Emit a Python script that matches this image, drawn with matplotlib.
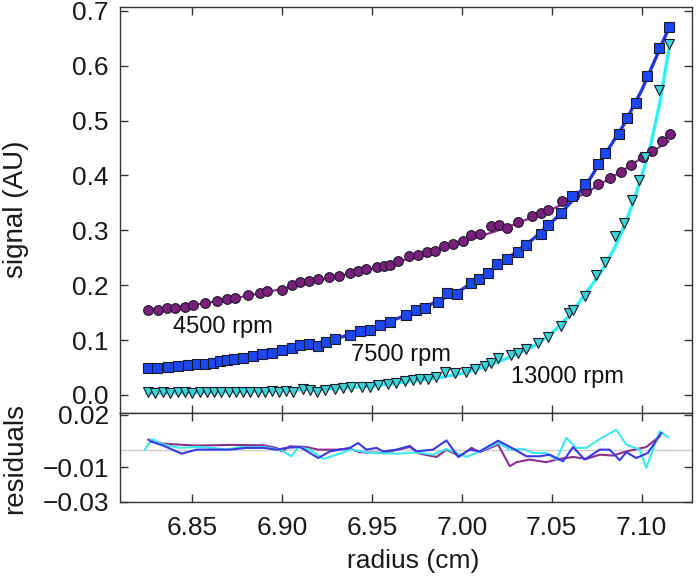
import matplotlib
matplotlib.use('Agg')
import matplotlib.pyplot as plt

plt.rcParams['font.family'] = ['Liberation Sans', 'DejaVu Sans']

# ---------------- data ----------------
r4500 = [6.8257, 6.8313, 6.8360, 6.8406, 6.8461, 6.8507, 6.8572, 6.8637, 6.8693, 6.8739,
         6.8813, 6.8878, 6.8915, 6.8998, 6.9054, 6.9100, 6.9152, 6.9202, 6.9263, 6.9318,
         6.9378, 6.9424, 6.9470, 6.9529, 6.9567, 6.9600, 6.9646, 6.9707, 6.9757, 6.9804,
         6.9850, 6.9900, 6.9952, 7.0007, 7.0050, 7.0100, 7.0165, 7.0206, 7.0254, 7.0313,
         7.0391, 7.0439, 7.0480, 7.0557, 7.0625, 7.0693, 7.0757, 7.0826, 7.0887, 7.0939,
         7.1007, 7.1057, 7.1115, 7.1156]
s4500 = [0.155, 0.155, 0.158, 0.159, 0.161, 0.164, 0.168, 0.172, 0.174, 0.176,
         0.182, 0.185, 0.190, 0.191, 0.200, 0.205, 0.208, 0.211, 0.214, 0.217,
         0.223, 0.225, 0.229, 0.233, 0.235, 0.237, 0.244, 0.253, 0.255, 0.261,
         0.262, 0.272, 0.275, 0.281, 0.292, 0.294, 0.307, 0.310, 0.305, 0.316,
         0.326, 0.332, 0.337, 0.354, 0.362, 0.371, 0.384, 0.395, 0.407, 0.419,
         0.433, 0.445, 0.462, 0.475]

r7500 = [6.8257, 6.8304, 6.8368, 6.8424, 6.8479, 6.8526, 6.8572, 6.8618, 6.8656, 6.8693,
         6.8735, 6.8785, 6.8841, 6.8887, 6.8943, 6.8998, 6.9054, 6.9100, 6.9152, 6.9202,
         6.9244, 6.9294, 6.9378, 6.9433, 6.9489, 6.9544, 6.9600, 6.9689, 6.9748, 6.9794,
         6.9869, 6.9919, 6.9971, 7.0050, 7.0094, 7.0146, 7.0198, 7.0254, 7.0310, 7.0359,
         7.0439, 7.0480, 7.0554, 7.0613, 7.0687, 7.0757, 7.0798, 7.0872, 7.0918, 7.0970,
         7.1032, 7.1096, 7.1150]
s7500 = [0.049, 0.049, 0.050, 0.052, 0.055, 0.056, 0.057, 0.058, 0.061, 0.063,
         0.065, 0.068, 0.071, 0.074, 0.076, 0.082, 0.085, 0.091, 0.093, 0.090,
         0.097, 0.102, 0.109, 0.117, 0.119, 0.128, 0.132, 0.146, 0.154, 0.159,
         0.169, 0.185, 0.184, 0.204, 0.211, 0.223, 0.238, 0.247, 0.261, 0.273,
         0.294, 0.309, 0.331, 0.363, 0.385, 0.421, 0.440, 0.476, 0.504, 0.532,
         0.581, 0.632, 0.670]

r13000 = [6.8255, 6.8296, 6.8338, 6.8379, 6.8421, 6.8462, 6.8501, 6.8543, 6.8582, 6.8624,
          6.8663, 6.8705, 6.8744, 6.8786, 6.8825, 6.8867, 6.8906, 6.8946, 6.8985, 6.9024,
          6.9063, 6.9115, 6.9159, 6.9193, 6.9239, 6.9294, 6.9341, 6.9387, 6.9443, 6.9489,
          6.9535, 6.9591, 6.9637, 6.9683, 6.9730, 6.9767, 6.9813, 6.9859, 6.9906, 6.9961,
          7.0026, 7.0076, 7.0128, 7.0165, 7.0202, 7.0272, 7.0313, 7.0359, 7.0424, 7.0480,
          7.0550, 7.0594, 7.0618, 7.0683, 7.0748, 7.0794, 7.0854, 7.0902, 7.0946, 7.0983,
          7.1020, 7.1094, 7.1150]
s13000 = [0.005, 0.004, 0.005, 0.004, 0.005, 0.005, 0.004, 0.005, 0.005, 0.006,
          0.005, 0.005, 0.006, 0.005, 0.006, 0.006, 0.006, 0.007, 0.006, 0.007,
          0.006, 0.010, 0.008, 0.006, 0.008, 0.010, 0.012, 0.015, 0.015, 0.014,
          0.018, 0.020, 0.022, 0.025, 0.027, 0.029, 0.029, 0.033, 0.041, 0.039,
          0.041, 0.047, 0.052, 0.058, 0.067, 0.073, 0.077, 0.083, 0.094, 0.106,
          0.126, 0.149, 0.155, 0.181, 0.218, 0.243, 0.289, 0.313, 0.355, 0.392,
          0.434, 0.555, 0.640]

# fitted curves
fr4500 = [6.825, 6.85, 6.875, 6.90, 6.925, 6.95, 6.975, 7.00, 7.025, 7.05, 7.07, 7.09, 7.10, 7.115]
fs4500 = [0.155, 0.163, 0.177, 0.193, 0.212, 0.230, 0.252, 0.278, 0.305, 0.338, 0.370, 0.410, 0.432, 0.462]

fr7500 = [6.825, 6.85, 6.875, 6.90, 6.925, 6.95, 6.975, 7.00, 7.02, 7.04, 7.055, 7.07, 7.08, 7.09, 7.10, 7.108, 7.115]
fs7500 = [0.048, 0.054, 0.066, 0.082, 0.098, 0.121, 0.153, 0.192, 0.235, 0.285, 0.330, 0.387, 0.440, 0.492, 0.555, 0.615, 0.668]

fr13000 = [6.825, 6.85, 6.875, 6.90, 6.925, 6.95, 6.975, 6.99, 7.00, 7.01, 7.02, 7.03, 7.04, 7.05,
           7.06, 7.07, 7.075, 7.08, 7.085, 7.09, 7.095, 7.10, 7.105, 7.11, 7.115]
fs13000 = [0.003, 0.004, 0.006, 0.008, 0.011, 0.016, 0.026, 0.033, 0.039, 0.048, 0.060, 0.073, 0.089, 0.112,
           0.145, 0.190, 0.212, 0.238, 0.268, 0.305, 0.348, 0.398, 0.455, 0.530, 0.628]

# residuals
rr4500 = [6.8257, 6.8340, 6.8526, 6.8711, 6.8896, 6.8970, 6.8998, 6.9044, 6.9137, 6.9202,
          6.9304, 6.9378, 6.9433, 6.9563, 6.9711, 6.9767, 6.9860, 6.9915, 6.9989, 7.0054,
          7.0100, 7.0202, 7.0267, 7.0304, 7.0378, 7.0470, 7.0544, 7.0619, 7.0693, 7.0767,
          7.0841, 7.0915, 7.1026, 7.1100]
res4500 = [0.0057, 0.0034, 0.0023, 0.0027, 0.0025, 0.0010, -0.0010, 0.0019, 0.0015, 0.0000,
           0.0000, 0.0006, -0.0015, -0.0019, 0.0015, -0.0023, -0.0042, 0.0000, -0.0038, 0.0010,
           -0.0015, 0.0029, -0.0095, -0.0072, -0.0057, -0.0072, -0.0053, -0.0042, -0.0053, -0.0029,
           -0.0034, -0.0010, 0.0015, 0.0076]

rr7500 = [6.8268, 6.8340, 6.8443, 6.8526, 6.8619, 6.8711, 6.8804, 6.8896, 6.8970, 6.9026,
          6.9100, 6.9202, 6.9267, 6.9378, 6.9424, 6.9470, 6.9526, 6.9563, 6.9637, 6.9711,
          6.9748, 6.9840, 6.9915, 6.9980, 7.0044, 7.0100, 7.0202, 7.0285, 7.0359, 7.0433,
          7.0489, 7.0563, 7.0619, 7.0683, 7.0767, 7.0822, 7.0878, 7.0915, 7.0970, 7.1035,
          7.1109]
res7500 = [0.0048, 0.0023, -0.0023, 0.0000, 0.0000, 0.0000, 0.0010, 0.0010, 0.0000, 0.0010,
           0.0015, -0.0048, -0.0010, 0.0010, 0.0038, 0.0000, 0.0010, -0.0010, 0.0000, 0.0021,
           -0.0010, 0.0000, 0.0053, -0.0042, 0.0000, -0.0010, 0.0051, 0.0006, -0.0038, -0.0038,
           -0.0029, -0.0067, 0.0015, -0.0057, 0.0000, 0.0000, -0.0061, -0.0015, -0.0048, -0.0019,
           0.0095]

rr13000 = [6.8239, 6.8276, 6.8340, 6.8433, 6.8526, 6.8619, 6.8693, 6.8767, 6.8896, 6.8989,
           6.9054, 6.9091, 6.9156, 6.9230, 6.9304, 6.9387, 6.9489, 6.9637, 6.9711, 6.9748,
           6.9840, 6.9915, 7.0026, 7.0081, 7.0202, 7.0267, 7.0341, 7.0396, 7.0470, 7.0526,
           7.0582, 7.0637, 7.0693, 7.0767, 7.0859, 7.0915, 7.0989, 7.1026, 7.1100, 7.1146]
res13000 = [0.0000, 0.0061, 0.0029, 0.0010, 0.0015, 0.0010, 0.0000, 0.0015, 0.0015, 0.0000,
            -0.0038, 0.0015, 0.0000, -0.0053, -0.0029, 0.0000, -0.0019, -0.0023, -0.0019, -0.0015,
            -0.0029, 0.0004, -0.0042, -0.0019, 0.0038, 0.0000, 0.0004, -0.0019, -0.0019, -0.0057,
            0.0067, 0.0010, 0.0010, 0.0061, 0.0114, 0.0029, 0.0000, -0.0105, 0.0105, 0.0072]

xticks = [6.85, 6.90, 6.95, 7.00, 7.05, 7.10]
xticklabels = ['6.85', '6.90', '6.95', '7.00', '7.05', '7.10']
yticks = [0.0, 0.1, 0.2, 0.3, 0.4, 0.5, 0.6, 0.7]
yticklabels = ['0.0', '0.1', '0.2', '0.3', '0.4', '0.5', '0.6', '0.7']
rticks = [0.02, -0.01, -0.03]
rticklabels = ['0.02', '\u22120.01', '\u22120.03']
speed_labels = ['4500 rpm', '7500 rpm', '13000 rpm']

# ---------------- styling ----------------
c_purple, c_purple_line = '#7a1f7c', '#8a2f8c'
c_blue, c_blue_line = '#1c47f2', '#2236e0'
c_cyan, c_cyan_line = '#3cd3d6', '#2ef0f6'
edge = '#1a1a2a'
spine_c = '#333333'

fig = plt.figure(figsize=(7, 5.82), dpi=100)
ax = fig.add_axes([0.1714, 0.2904, 0.8172, 0.6976])
axr = fig.add_axes([0.1714, 0.1375, 0.8172, 0.1529])

# fit lines
ax.plot(fr4500, fs4500, color=c_purple_line, lw=1.6, zorder=2)
ax.plot(fr7500, fs7500, color=c_blue_line, lw=2.4, zorder=2)
ax.plot(fr13000, fs13000, color=c_cyan_line, lw=2.4, zorder=2)
# data
ax.plot(r4500, s4500, 'o', ms=7, mfc=c_purple, mec=edge, mew=0.8, zorder=3)
ax.plot(r7500, s7500, 's', ms=6.6, mfc=c_blue, mec=edge, mew=0.8, zorder=3)
ax.plot(r13000, s13000, 'v', ms=7, mfc=c_cyan, mec=edge, mew=0.8, zorder=3)

ax.text(6.8672, 0.124, speed_labels[0], fontsize=17, ha='center', va='center', color='#111111')
ax.text(6.9661, 0.073, speed_labels[1], fontsize=17, ha='center', va='center', color='#111111')
ax.text(7.0586, 0.032, speed_labels[2], fontsize=17, ha='center', va='center', color='#111111')

xlim = (6.81, 7.128)
ax.set_xlim(*xlim)
ax.set_ylim(-0.033, 0.707)
ax.set_xticks(xticks)
ax.set_xticklabels([])
ax.set_yticks(yticks)
ax.set_yticklabels(yticklabels)

# residuals
axr.axhline(0, color='#cccccc', lw=1.0, zorder=1)
axr.plot(rr4500, res4500, color=c_purple_line, lw=1.5, zorder=2)
axr.plot(rr7500, res7500, color='#3a3ae0', lw=1.5, zorder=3)
axr.plot(rr13000, res13000, color='#3ee8f2', lw=1.5, zorder=2.5)
axr.set_xlim(*xlim)
axr.set_ylim(-0.03, 0.021)
axr.set_xticks(xticks)
axr.set_xticklabels(xticklabels)
axr.set_yticks(rticks)
axr.set_yticklabels(rticklabels)

for a in (ax, axr):
    for s in a.spines.values():
        s.set_color(spine_c)
        s.set_linewidth(1.0)
    a.tick_params(direction='in', top=True, right=True, length=6, width=1.0,
                  color=spine_c, labelsize=19, labelcolor='#1a1a1a', pad=8)
axr.tick_params(axis='x', pad=10)

fig.text(16 / 700, 1 - 209 / 582, 'signal (AU)', rotation=90, fontsize=20,
         ha='center', va='center', color='#1a1a1a')
fig.text(15 / 700, 1 - 459 / 582, 'residuals', rotation=90, fontsize=20,
         ha='center', va='center', color='#1a1a1a')
fig.text(413 / 700, 1 - 561 / 582, 'radius (cm)', fontsize=19,
         ha='center', va='center', color='#1a1a1a')

fig.savefig('out.png', dpi=100)
